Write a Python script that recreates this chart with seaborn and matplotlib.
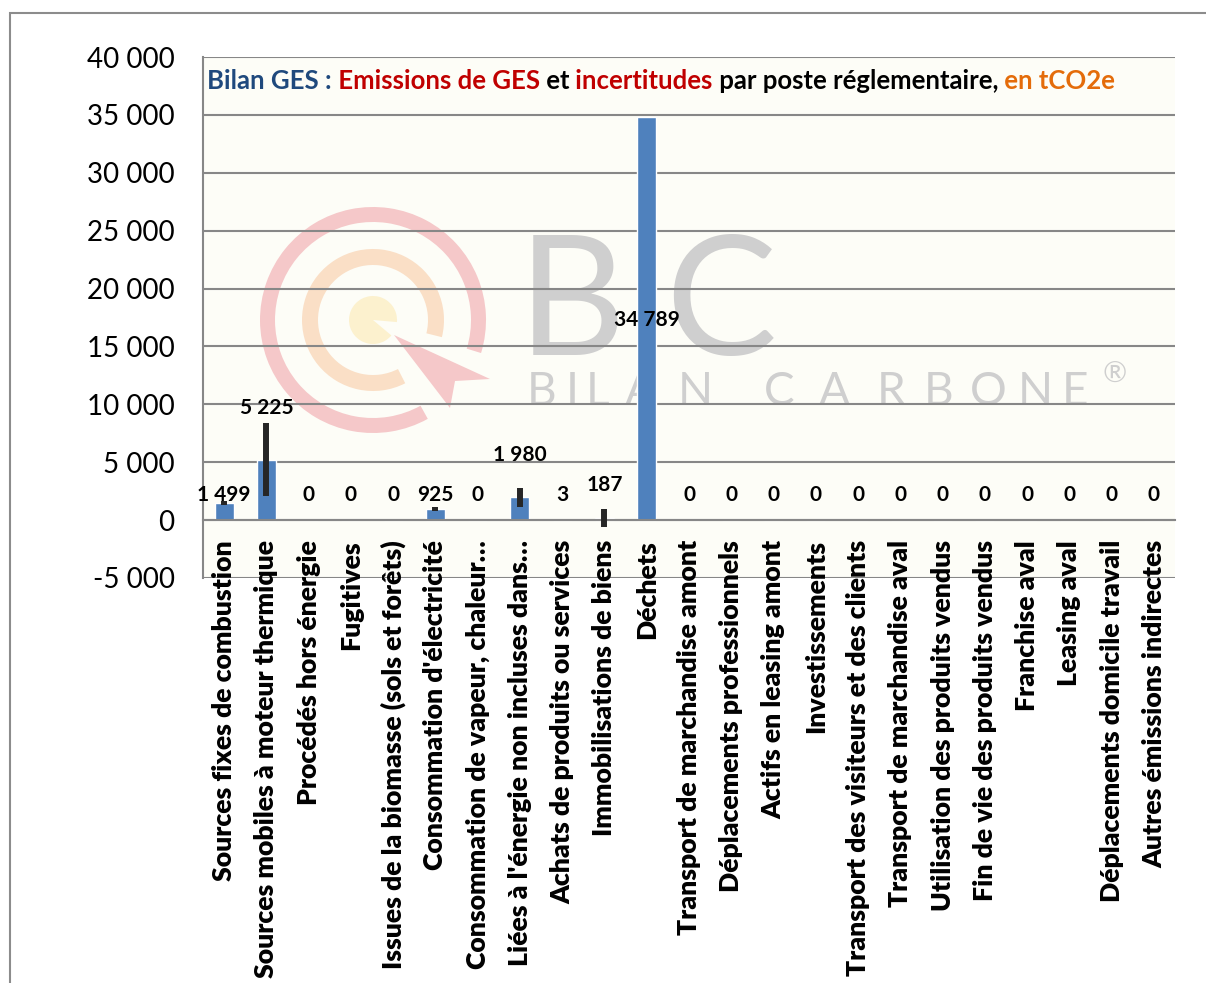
import matplotlib
matplotlib.use("Agg")
import matplotlib.pyplot as plt
import seaborn as sns
import pandas as pd
import numpy as np
from matplotlib.patches import Wedge, Polygon, Rectangle
from matplotlib.ticker import FixedLocator, FuncFormatter

# ---------------- data ----------------
categories = [
    "Sources fixes de combustion",
    "Sources mobiles à moteur thermique",
    "Procédés hors énergie",
    "Fugitives",
    "Issues de la biomasse (sols et forêts)",
    "Consommation d'électricité",
    "Consommation de vapeur, chaleur…",
    "Liées à l'énergie non incluses dans…",
    "Achats de produits ou services",
    "Immobilisations de biens",
    "Déchets",
    "Transport de marchandise amont",
    "Déplacements professionnels",
    "Actifs en leasing amont",
    "Investissements",
    "Transport des visiteurs et des clients",
    "Transport de marchandise aval",
    "Utilisation des produits vendus",
    "Fin de vie des produits vendus",
    "Franchise aval",
    "Leasing aval",
    "Déplacements domicile travail",
    "Autres émissions indirectes",
]
emissions = [1499, 5225, 0, 0, 0, 925, 0, 1980, 3, 187, 34789,
             0, 0, 0, 0, 0, 0, 0, 0, 0, 0, 0, 0]
uncertainty = [180, 3135, 0, 0, 0, 170, 0, 820, 15, 780, 0,
               0, 0, 0, 0, 0, 0, 0, 0, 0, 0, 0, 0]
y_ticks = [-5000, 0, 5000, 10000, 15000, 20000, 25000, 30000, 35000, 40000]

title_parts = ["Bilan GES :", " Emissions de GES", " et", " incertitudes",
               " par poste réglementaire,", " en tCO2e"]
title_colors = ["#1F497D", "#C00000", "#000000", "#C00000", "#000000", "#E46C0A"]

# layout: vertical anchor of each value label (data units)
label_anchor = [2150, 9650, 2150, 2150, 2150, 2150, 2150, 5600, 2150, 3000, 17250,
                2150, 2150, 2150, 2150, 2150, 2150, 2150, 2150, 2150, 2150, 2150, 2150]

# ---------------- style ----------------
sns.set_style("white")
plt.rcParams["font.family"] = ["Lato", "DejaVu Sans"]

W, H = 1206, 983
fig = plt.figure(figsize=(W / 100, H / 100), dpi=100)
fig.patch.set_facecolor("white")
ax = fig.add_axes([203 / W, 1 - 578 / H, 972 / W, 521 / H])
ax.set_facecolor("#FDFDF7")

GRID = "#878787"
BAR = "#4F81BD"

df = pd.DataFrame({"poste": categories, "tco2e": emissions})
sns.barplot(data=df, x="poste", y="tco2e", color=BAR, saturation=1,
            width=0.45, errorbar=None, ax=ax, zorder=2)

idx = np.arange(len(categories))
err = np.array(uncertainty)
m = err > 0
ax.errorbar(idx[m], np.array(emissions)[m], yerr=err[m], fmt="none",
            ecolor="#262626", elinewidth=4.3, capsize=0, zorder=3)

# axes
ax.set_xlim(-0.5, len(categories) - 0.5)
ax.set_ylim(-5000, 40000)
ax.set_yticks(y_ticks)
ax.yaxis.set_major_formatter(FuncFormatter(lambda v, p: f"{int(v):,}".replace(",", " ")))
ax.set_xlabel("")
ax.set_ylabel("")
ax.yaxis.grid(True, color=GRID, lw=1.5)
ax.xaxis.grid(False)
ax.set_axisbelow(True)

for s in ["top", "right"]:
    ax.spines[s].set_visible(False)
ax.spines["bottom"].set_position(("data", 0))
for s in ["bottom", "left"]:
    ax.spines[s].set_color(GRID)
    ax.spines[s].set_linewidth(1.5)

ax.set_xticks(idx)
ax.tick_params(axis="x", which="major", length=0, labelbottom=False)
ax.xaxis.set_minor_locator(FixedLocator(np.arange(-0.5, len(categories), 1.0)))
ax.tick_params(axis="x", which="minor", length=6.5, width=1.5, color=GRID, direction="out")
ax.tick_params(axis="y", which="major", length=6.5, width=1.5, color=GRID,
               labelsize=20, pad=14, labelcolor="black")

# category labels (bold, rotated, hanging below the zero axis)
for i, cat in enumerate(categories):
    ax.annotate(cat, xy=(i, 0), xycoords="data", xytext=(0, -14.4),
                textcoords="offset points", rotation=90, ha="center", va="top",
                fontsize=19.2, fontweight="heavy", color="black",
                annotation_clip=False, zorder=8)

# value labels
for i, v in enumerate(emissions):
    ax.text(i, label_anchor[i], f"{v:,}".replace(",", " "), ha="center", va="center",
            fontsize=15, fontweight="bold", color="black", zorder=6)

# watermark (decoration, pixel layout)
T = fig.dpi_scale_trans
def P(x, y):
    return (x / 100, (H - y) / 100)

cx, cy = 373, 320
wm = [
    Wedge(P(cx, cy), 1.13, -17, 299, width=0.15, facecolor="#F5C8C9", edgecolor="none"),
    Wedge(P(cx, cy), 0.71, -14, 297, width=0.16, facecolor="#FADFC6", edgecolor="none"),
    Wedge(P(cx, cy), 0.24, -5, 320, facecolor="#FCF1CE", edgecolor="none"),
    Polygon([P(394, 335), P(490, 379), P(455, 381), P(450, 408)], closed=True,
            facecolor="#F5C8C9", edgecolor="none"),
]
for p in wm:
    p.set_transform(T)
    p.set_zorder(0.2)
    ax.add_patch(p)

WMC = "#CFCFCF"
ax.text(*P(518, 355), "B", transform=T, fontsize=120, fontweight="normal",
        color=WMC, ha="left", va="baseline", zorder=0.3)
ax.text(*P(665, 355), "C", transform=T, fontsize=120, fontweight="normal",
        color=WMC, ha="left", va="baseline", zorder=0.3)
wm_chars = "BILANCARBONE"
wm_centers = [542, 572, 598, 640, 695, 779, 834, 891, 939, 988, 1035, 1075]
for ch, xc in zip(wm_chars, wm_centers):
    ax.text(*P(xc, 405), ch, transform=T, fontsize=33, fontweight="normal",
            color=WMC, ha="center", va="baseline", zorder=0.3)
ax.text(*P(1102, 383), "®", transform=T, fontsize=21, fontweight="normal",
        color=WMC, ha="left", va="baseline", zorder=0.3)

# multi-colour title
TFS = 18.5
prev = ax.text(4 / 972, 0.93, title_parts[0], transform=ax.transAxes, color=title_colors[0],
               fontsize=TFS, fontweight="bold", va="bottom", ha="left", zorder=7)
for part, col in zip(title_parts[1:], title_colors[1:]):
    prev = ax.annotate(part, xy=(1, 0), xycoords=prev, va="bottom", ha="left",
                       color=col, fontsize=TFS, fontweight="bold", zorder=7)

# outer chart border
fig.add_artist(Rectangle((10 / W, -0.1), 1.2, (1 - 13 / H) + 0.1, transform=fig.transFigure,
                         fill=False, edgecolor="#8C8C8C", lw=1.5))

fig.savefig("out.png", dpi=100, facecolor="white")
